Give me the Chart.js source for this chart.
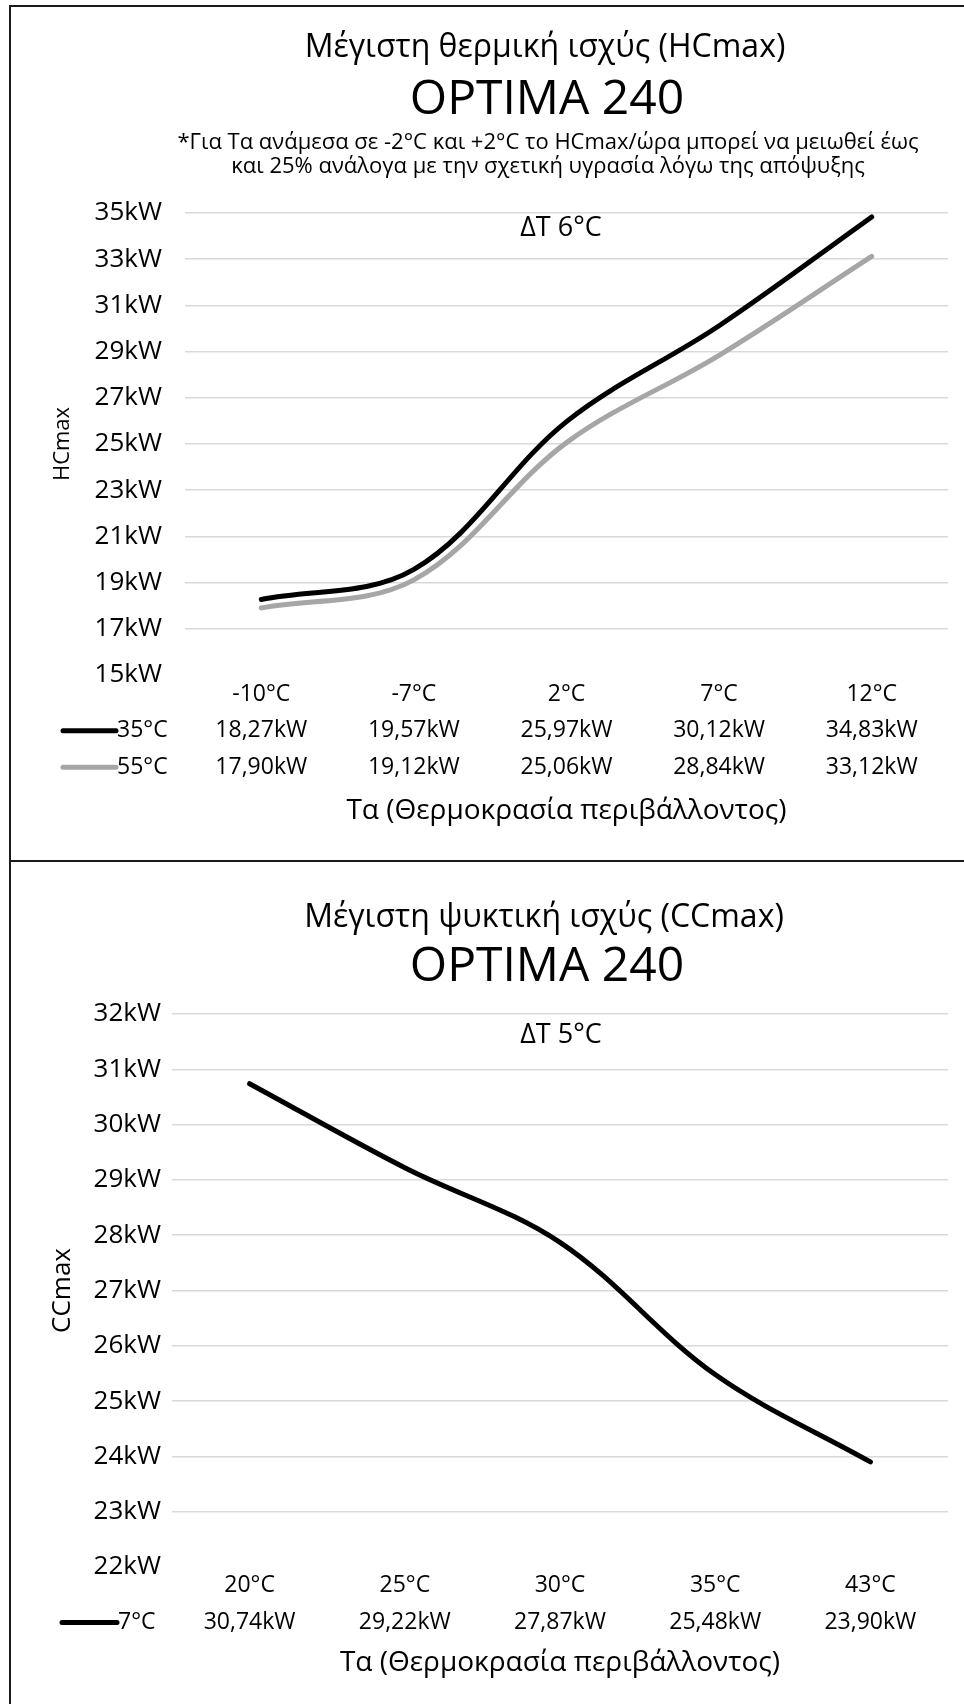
<!DOCTYPE html>
<html><head><meta charset="utf-8">
<script src="https://cdn.jsdelivr.net/npm/chart.js@4.4.1/dist/chart.umd.min.js"></script>
<style>
html,body{margin:0;padding:0;background:#fff;overflow:hidden;}
#wrap{position:relative;width:964px;height:1704px;overflow:hidden;}
.cw{position:absolute;left:0;width:964px;}
.fr{position:absolute;background:#1a1a1a;}
</style></head>
<body>
<div id="wrap">
  <div class="cw" style="top:7px;height:853px"><canvas id="c1" width="964" height="853"></canvas></div>
  <div class="cw" style="top:862px;height:842px"><canvas id="c2" width="964" height="842"></canvas></div>
  <div class="fr" style="left:9px;top:5px;width:955px;height:2px"></div>
  <div class="fr" style="left:9px;top:5px;width:2px;height:1699px"></div>
  <div class="fr" style="left:9px;top:860px;width:955px;height:2px"></div>
</div>
<script>
// ---------- data ----------
const heatCategories = ['-10°C', '-7°C', '2°C', '7°C', '12°C'];
const heatSeriesNames = ['35°C', '55°C'];
const heat35 = [18.27, 19.57, 25.97, 30.12, 34.83];
const heat55 = [17.90, 19.12, 25.06, 28.84, 33.12];
const heatAxisMin = 15, heatAxisMax = 35, heatAxisStep = 2;

const coolCategories = ['20°C', '25°C', '30°C', '35°C', '43°C'];
const coolSeriesNames = ['7°C'];
const cool7 = [30.74, 29.22, 27.87, 25.48, 23.90];
const coolAxisMin = 22, coolAxisMax = 32, coolAxisStep = 1;

const heatTitle = 'Μέγιστη θερμική ισχύς (HCmax)';
const coolTitle = 'Μέγιστη ψυκτική ισχύς (CCmax)';
const modelName = 'OPTIMA 240';
const heatNote = ['*Για Τα ανάμεσα σε -2°C και +2°C το HCmax/ώρα μπορεί να μειωθεί έως',
                  'και 25% ανάλογα με την σχετική υγρασία λόγω της απόψυξης'];
const heatDelta = 'ΔT 6°C';
const coolDelta = 'ΔT 5°C';
const xAxisTitle = 'Τα (Θερμοκρασία περιβάλλοντος)';

// ---------- helpers ----------
const FONT = "'Open Sans', 'Noto Sans', sans-serif";
Chart.defaults.font.family = FONT;
Chart.defaults.color = '#000';
const fmt = v => v.toFixed(2).replace('.', ',') + 'kW';
const X_TITLE_SIZE = 28;

const headerPlugin = {
  id: 'header',
  afterDraw(chart, args, opts) {
    const ctx = chart.ctx;
    ctx.save();
    ctx.fillStyle = '#000';
    ctx.textAlign = 'center';
    ctx.textBaseline = 'middle';
    (opts.lines || []).forEach(l => {
      ctx.font = l.size + 'px ' + FONT;
      ctx.fillText(l.text, l.x, l.y);
    });
    ctx.restore();
  }
};

const tableLegendPlugin = {
  id: 'tableLegend',
  afterDraw(chart, args, opts) {
    const ctx = chart.ctx;
    const xo = chart.options.scales.x.ticks;
    const lh = parseFloat(xo.font.lineHeight);
    const top = chart.chartArea.bottom + xo.padding;
    ctx.save();
    chart.data.datasets.forEach((ds, i) => {
      const y = top + lh * (i + 1.5);
      ctx.strokeStyle = ds.borderColor;
      ctx.lineWidth = 5;
      ctx.lineCap = 'round';
      ctx.beginPath();
      ctx.moveTo(opts.x0, y);
      ctx.lineTo(opts.x1, y);
      ctx.stroke();
      ctx.fillStyle = '#000';
      ctx.font = xo.font.size + 'px ' + FONT;
      ctx.textAlign = 'left';
      ctx.textBaseline = 'middle';
      ctx.fillText(ds.label, opts.x1 + 1, y);
    });
    ctx.restore();
  }
};

function makeChart(id, cfg) {
  const series = cfg.series;
  const labels = cfg.categories.map((c, i) => [c].concat(series.map(s => fmt(s.data[i]))));
  const xFontSize = 23;
  return new Chart(document.getElementById(id), {
    type: 'line',
    data: {
      labels: labels,
      datasets: series.map(s => ({
        label: s.name,
        data: s.data,
        borderColor: s.color,
        backgroundColor: s.color,
        borderWidth: 5,
        borderCapStyle: 'round',
        borderJoinStyle: 'round',
        pointRadius: 0,
        tension: 0.35,
        fill: false
      }))
    },
    options: {
      responsive: false,
      animation: false,
      devicePixelRatio: 1,
      layout: { padding: { top: cfg.areaTop, right: 16, left: 0, bottom: cfg.padBottom } },
      plugins: {
        legend: { display: false },
        tooltip: { enabled: false },
        title: { display: false },
        header: { lines: cfg.header },
        tableLegend: { x0: cfg.keyX0, x1: cfg.keyX1 }
      },
      scales: {
        x: {
          type: 'category',
          offset: true,
          grid: { display: false, drawTicks: false, tickLength: 0 },
          border: { display: false },
          ticks: {
            padding: cfg.tickPad,
            maxRotation: 0,
            autoSkip: false,
            font: { size: xFontSize, lineHeight: cfg.rowH + 'px' }
          },
          title: {
            display: true,
            text: xAxisTitle,
            font: { size: X_TITLE_SIZE, lineHeight: 1.2 },
            padding: { top: cfg.titlePadTop, bottom: 0 }
          }
        },
        y: {
          min: cfg.min, max: cfg.max,
          afterFit: sc => { sc.width = cfg.areaLeft; },
          ticks: {
            stepSize: cfg.step,
            padding: cfg.yTickPad,
            font: { size: 26 },
            callback: v => v + 'kW'
          },
          grid: {
            drawTicks: false,
            tickLength: 0,
            lineWidth: 1.5,
            color: c => (c.tick && c.tick.value === cfg.min) ? 'rgba(0,0,0,0)' : '#d9d9d9'
          },
          border: { display: false },
          title: {
            display: true,
            text: cfg.yTitle,
            font: { size: cfg.yTitleSize, lineHeight: 1.2 },
            padding: { top: 63 - cfg.yTitleSize * 0.6, bottom: 0 }
          }
        }
      }
    },
    plugins: [headerPlugin, tableLegendPlugin]
  });
}

// top chart (canvas origin y = 7)
makeChart('c1', {
  categories: heatCategories,
  series: [
    { name: heatSeriesNames[0], data: heat35, color: '#000000' },
    { name: heatSeriesNames[1], data: heat55, color: '#a6a6a6' }
  ],
  min: heatAxisMin, max: heatAxisMax, step: heatAxisStep,
  areaTop: 206, areaLeft: 185, yTickPad: 23,
  rowH: 36.5, tickPad: 1, titlePadTop: 7.7,
  padBottom: 853 - 669 - (1 + 3 * 36.5 + 7.7 + X_TITLE_SIZE * 1.2),
  yTitle: 'HCmax', yTitleSize: 22,
  keyX0: 63, keyX1: 116,
  header: [
    { text: heatTitle, x: 545, y: 41, size: 32 },
    { text: modelName, x: 547, y: 93, size: 48 },
    { text: heatNote[0], x: 548, y: 136, size: 22 },
    { text: heatNote[1], x: 548, y: 160, size: 22 },
    { text: heatDelta, x: 561, y: 221, size: 27 }
  ]
});

// bottom chart (canvas origin y = 862)
makeChart('c2', {
  categories: coolCategories,
  series: [
    { name: coolSeriesNames[0], data: cool7, color: '#000000' }
  ],
  min: coolAxisMin, max: coolAxisMax, step: coolAxisStep,
  areaTop: 152, areaLeft: 172, yTickPad: 11,
  rowH: 37, tickPad: 0, titlePadTop: 5.2,
  padBottom: 842 - 705 - (0 + 2 * 37 + 5.2 + X_TITLE_SIZE * 1.2),
  yTitle: 'CCmax', yTitleSize: 26,
  keyX0: 62, keyX1: 117,
  header: [
    { text: coolTitle, x: 544, y: 56, size: 32 },
    { text: modelName, x: 547, y: 105, size: 48 },
    { text: coolDelta, x: 561, y: 173, size: 27 }
  ]
});
</script>
</body></html>
